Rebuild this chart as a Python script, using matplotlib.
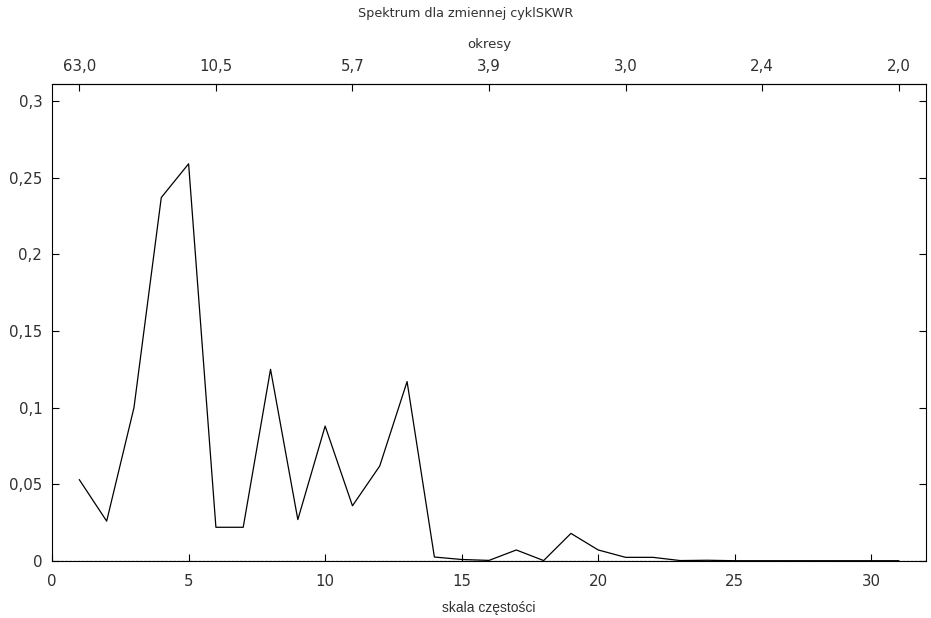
import matplotlib
matplotlib.use("Agg")
import matplotlib.pyplot as plt
from matplotlib.ticker import FixedLocator, FuncFormatter

# data
freq = list(range(1, 32))
spectrum = [0.053, 0.026, 0.100, 0.237, 0.259, 0.022, 0.022, 0.125, 0.027, 0.088,
            0.036, 0.062, 0.117, 0.0026, 0.001, 0.0004, 0.0072, 0.0003, 0.018, 0.0072,
            0.0024, 0.0024, 0.0003, 0.0005, 0.0002, 0.0002, 0.0002, 0.0002, 0.0002, 0.0002, 0.0002]
n_obs = 63
x_ticks = [0, 5, 10, 15, 20, 25, 30]
y_ticks = [0, 0.05, 0.1, 0.15, 0.2, 0.25, 0.3]
top_ticks = [1, 6, 11, 16, 21, 26, 31]
title = "Spektrum dla zmiennej cyklSKWR"
xlabel = "skala częstości"
top_label = "okresy"

plt.rcParams['font.family'] = ['DejaVu Sans']
tick_color = "#303030"

fig = plt.figure(figsize=(9.31, 6.18), dpi=100)
ax = fig.add_axes([0.0559, 0.0922, 0.9387, 0.7718])

ax.plot(freq, spectrum, color="black", lw=0.9)
ax.axhline(0, color="#888888", lw=1.0, ls=(0, (2, 1)), zorder=1)
ax.set_xlim(0, 32)
ax.set_ylim(0, 0.311)

def comma(v, pos=None):
    s = f"{v:g}"
    return s.replace(".", ",")

ax.xaxis.set_major_locator(FixedLocator(x_ticks))
ax.yaxis.set_major_locator(FixedLocator(y_ticks))
ax.yaxis.set_major_formatter(FuncFormatter(comma))
ax.tick_params(axis="both", direction="in", length=5, width=0.8, labelsize=10.8,
               labelcolor=tick_color, pad=9)
ax.tick_params(axis="y", right=True, pad=7)
ax.set_xlabel(xlabel, fontsize=10, family="Liberation Sans", labelpad=9, color=tick_color)

top = ax.secondary_xaxis("top")
top.xaxis.set_major_locator(FixedLocator(top_ticks))
top.xaxis.set_major_formatter(FuncFormatter(lambda v, p: f"{n_obs / v:.1f}".replace(".", ",")))
top.tick_params(direction="in", length=5, width=0.8, labelsize=10.8, labelcolor=tick_color, pad=7)
top.set_xlabel(top_label, fontsize=9.5, labelpad=8, color=tick_color)

for sp in ax.spines.values():
    sp.set_linewidth(0.8)

fig.text(0.5, 0.978, title, ha="center", va="center", fontsize=9.2, color=tick_color)

fig.savefig("out.png", dpi=100)
